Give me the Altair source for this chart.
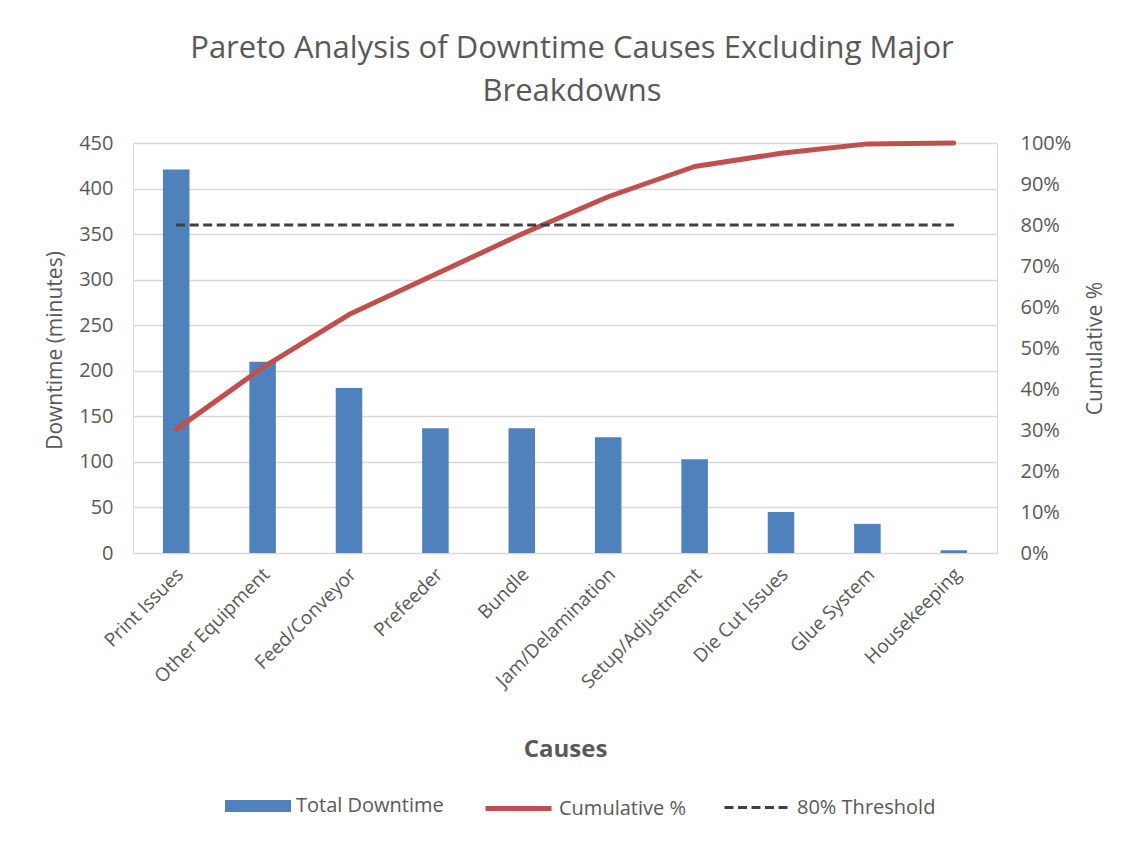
import altair as alt
import pandas as pd

causes = ["Print Issues", "Other Equipment", "Feed/Conveyor", "Prefeeder", "Bundle",
          "Jam/Delamination", "Setup/Adjustment", "Die Cut Issues", "Glue System", "Housekeeping"]
downtime = [421, 210, 181, 137, 137, 127, 103, 45, 32, 3]
threshold = 0.8
y_left_ticks = [0, 50, 100, 150, 200, 250, 300, 350, 400, 450]
y_right_ticks = [0, 0.1, 0.2, 0.3, 0.4, 0.5, 0.6, 0.7, 0.8, 0.9, 1.0]

total = sum(downtime)
cum = []
run = 0
for d in downtime:
    run += d
    cum.append(run / total)

df = pd.DataFrame({
    "cause": causes,
    "downtime": downtime,
    "cum": cum,
    "thr": [threshold] * len(causes),
    "s_bar": ["Total Downtime"] * len(causes),
    "s_line": ["Cumulative %"] * len(causes),
    "s_thr": ["80% Threshold"] * len(causes),
})

FONT = "Open Sans"
GREY = "#595959"
BLUE = "#4f81bd"
RED = "#c0504d"
DASH = "#404040"
GRID = "#d9d9d9"
SYM = 4356

x = alt.X(
    "cause:N", sort=causes,
    scale=alt.Scale(paddingInner=0.693, paddingOuter=0.3465),
    axis=alt.Axis(
        title="Causes", labelAngle=-45, labelAlign="right", labelBaseline="middle",
        labelFontSize=19, labelColor=GREY, labelFont=FONT, labelPadding=18, labelOffset=4,
        ticks=False, domain=False,
        titleFontSize=24, titleFontWeight="bold", titleColor=GREY, titleFont=FONT,
        titleY=203, titleBaseline="alphabetic",
    ),
)

legend_common = dict(
    orient="none", title=None, labelFontSize=20, labelColor=GREY, labelFont=FONT,
    labelOffset=5, direction="horizontal", legendY=630, symbolSize=SYM,
)

bars = alt.Chart(df).mark_bar().encode(
    x=x,
    y=alt.Y(
        "downtime:Q",
        scale=alt.Scale(domain=[0, 450], nice=False),
        axis=alt.Axis(
            values=y_left_ticks, title="Downtime (minutes)",
            labelFontSize=20, labelColor=GREY, labelFont=FONT, labelPadding=20,
            ticks=False, domain=False, gridColor=GRID, gridWidth=1.5,
            titleFontSize=21, titleColor=GREY, titleFont=FONT, titleFontWeight="normal",
            titleAngle=270, titleX=-78, titleY=207, titleBaseline="middle", titleAlign="center",
        ),
    ),
    fill=alt.Fill(
        "s_bar:N", scale=alt.Scale(range=[BLUE]),
        legend=alt.Legend(symbolType="M-1,-0.18H1V0.18H-1Z",
                          symbolStrokeWidth=0, legendX=92, **legend_common),
    ),
)

line = alt.Chart(df).mark_line(strokeWidth=5, strokeCap="round", strokeJoin="round").encode(
    x=x,
    y=alt.Y(
        "cum:Q",
        scale=alt.Scale(domain=[0, 1], nice=False),
        axis=alt.Axis(
            orient="right", values=y_right_ticks, format=".0%", title="Cumulative %",
            labelFontSize=20, labelColor=GREY, labelFont=FONT, labelPadding=23,
            ticks=False, domain=False, grid=False,
            titleFontSize=21, titleColor=GREY, titleFont=FONT, titleFontWeight="normal",
            titleAngle=270, titleX=98, titleY=205, titleBaseline="middle", titleAlign="center",
        ),
    ),
    stroke=alt.Stroke(
        "s_line:N", scale=alt.Scale(range=[RED]),
        legend=alt.Legend(symbolType="stroke", symbolStrokeWidth=5,
                          legendX=350, **legend_common),
    ),
)

thr = alt.Chart(df).mark_line(strokeWidth=3, color=DASH).encode(
    x=x,
    y=alt.Y("thr:Q", scale=alt.Scale(domain=[0, 1], nice=False), axis=None),
    strokeDash=alt.StrokeDash(
        "s_thr:N", scale=alt.Scale(range=[[9, 4.5]]),
        legend=alt.Legend(symbolType="stroke", symbolStrokeWidth=3,
                          symbolStrokeColor=DASH, legendX=590, **legend_common),
    ),
)

chart = alt.layer(bars, line, thr).resolve_scale(
    y="independent", fill="independent", stroke="independent", strokeDash="independent"
).properties(
    width=864, height=410,
    title=alt.TitleParams(
        ["Pareto Analysis of Downtime Causes Excluding Major", "Breakdowns"],
        fontSize=31, font=FONT, color=GREY, fontWeight="normal", lineHeight=43,
        offset=25, dx=7, anchor="middle",
    ),
    autosize=alt.AutoSizeParams(type="none"),
    padding={"left": 133, "top": 143, "right": 125, "bottom": 289},
).configure_view(stroke=None).configure(background="white")

chart.save("out.html", embed_options={"renderer": "svg", "actions": False})
